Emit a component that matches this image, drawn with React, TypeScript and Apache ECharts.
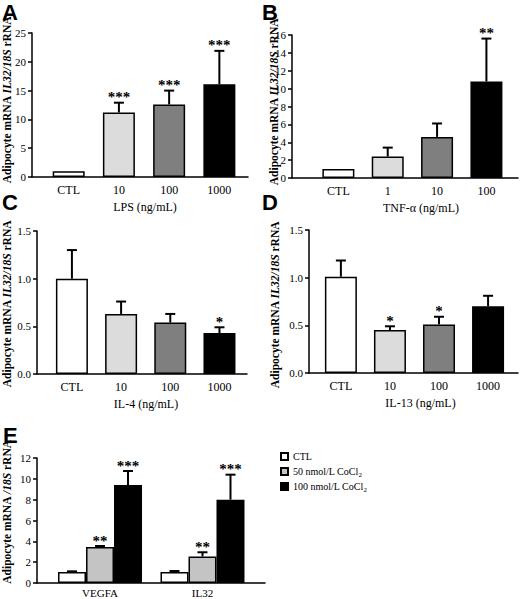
import { useEffect, useRef } from 'react'
import * as echarts from 'echarts'

// panel A - LPS
const CATS_A = ['CTL', '10', '100', '1000']
const VALS_A = [1.0, 11.2, 12.6, 16.1]
const ERR_A = [0, 1.7, 2.4, 5.8]
const STARS_A = ['', '***', '***', '***']

// panel B - TNF-α
const CATS_B = ['CTL', '1', '10', '100']
const VALS_B = [1.0, 2.4, 4.6, 10.8]
const ERR_B = [0, 1.0, 1.5, 4.8]
const STARS_B = ['', '', '', '**']

// panel C - IL-4
const CATS_C = ['CTL', '10', '100', '1000']
const VALS_C = [1.0, 0.63, 0.54, 0.43]
const ERR_C = [0.3, 0.13, 0.09, 0.06]
const STARS_C = ['', '', '', '*']

// panel D - IL-13
const CATS_D = ['CTL', '10', '100', '1000']
const VALS_D = [1.01, 0.45, 0.51, 0.7]
const ERR_D = [0.17, 0.04, 0.08, 0.11]
const STARS_D = ['', '*', '*', '']

// panel E - CoCl2
const GENES_E = ['VEGFA', 'IL32']
const NAMES_E = ['CTL', '50 nmol/L CoCl2', '100 nmol/L CoCl2']
const CTL_E = [1.05, 1.05]
const CTL_ERR_E = [0.07, 0.1]
const CO50_E = [3.45, 2.55]
const CO50_ERR_E = [0.1, 0.4]
const CO100_E = [9.4, 8.0]
const CO100_ERR_E = [1.35, 2.4]
const STARS_50_E = ['**', '**']
const STARS_100_E = ['***', '***']

const SERIF = 'Liberation Serif'
const FILLS = ['#ffffff', '#dcdcdc', '#7f7f7f', '#000000']
const FILLS_E = ['#ffffff', '#c4c4c4', '#000000']

const PANELS = [
  { cats: CATS_A, vals: VALS_A, errs: ERR_A, stars: STARS_A, name: 'LPS (ng/mL)', max: 25, interval: 5, dec: 0,
    grid: { left: 32, top: 33, width: 216, height: 144 }, xMin: -0.73, xMax: 3.57, namePad: 10 },
  { cats: CATS_B, vals: VALS_B, errs: ERR_B, stars: STARS_B, name: 'TNF-α (ng/mL)', max: 16, interval: 2, dec: 0,
    grid: { left: 292, top: 35, width: 226, height: 143 }, xMin: -0.94, xMax: 3.64, namePad: 32 },
  { cats: CATS_C, vals: VALS_C, errs: ERR_C, stars: STARS_C, name: 'IL-4 (ng/mL)', max: 1.5, interval: 0.5, dec: 1,
    grid: { left: 37, top: 231, width: 210, height: 143 }, xMin: -0.71, xMax: 3.56, namePad: 8 },
  { cats: CATS_D, vals: VALS_D, errs: ERR_D, stars: STARS_D, name: 'IL-13 (ng/mL)', max: 1.5, interval: 0.5, dec: 1,
    grid: { left: 309, top: 230, width: 209, height: 143 }, xMin: -0.65, xMax: 3.61, namePad: 14 },
]

const axisLine = { show: true, onZero: false, lineStyle: { color: '#000', width: 1.5 } }

function errSeries(grid: number, vals: number[], errs: number[], stars: string[], offset: number) {
  return {
    type: 'custom' as const,
    xAxisIndex: grid,
    yAxisIndex: grid,
    z: 5,
    silent: true,
    data: vals.map((v, i) => [i, v, errs[i]]),
    renderItem: (params: any, api: any) => {
      const x = api.value(0)
      const v = api.value(1)
      const e = api.value(2)
      const p0 = api.coord([x, v])
      const p1 = api.coord([x, v + e])
      const cx = p0[0] + offset
      const children: any[] = []
      if (e > 0) {
        children.push({ type: 'line', shape: { x1: cx, y1: p0[1], x2: cx, y2: p1[1] }, style: { stroke: '#000', lineWidth: 2 } })
        children.push({ type: 'line', shape: { x1: cx - 5, y1: p1[1], x2: cx + 5, y2: p1[1] }, style: { stroke: '#000', lineWidth: 2 } })
      }
      const s = stars[params.dataIndex]
      if (s) {
        children.push({
          type: 'text',
          x: cx,
          y: p1[1] + 2,
          style: {
            text: s,
            fill: '#000',
            stroke: 'none',
            lineWidth: 0,
            font: `bold 15px "${SERIF}"`,
            align: 'center',
            verticalAlign: 'bottom',
          },
        })
      }
      return { type: 'group', children }
    },
  }
}

const yName = (x: number, y: number, italic: string) => ({
  type: 'text',
  x,
  y,
  rotation: Math.PI / 2,
  style: {
    text: `{b|Adipocyte mRNA }{i|${italic}}{b| rRNA}`,
    align: 'center',
    verticalAlign: 'middle',
    rich: {
      b: { fontFamily: SERIF, fontSize: 11.5, fontWeight: 'bold', fill: '#000' },
      i: { fontFamily: SERIF, fontSize: 11.5, fontWeight: 'bold', fontStyle: 'italic', fill: '#000' },
    },
  },
})

const letter = (t: string, x: number, y: number) => ({
  type: 'text',
  x,
  y,
  style: { text: t, font: 'bold 22px "Liberation Sans"', fill: '#000', align: 'left', verticalAlign: 'top' },
})

function buildOption(): echarts.EChartsOption {
  const grids: any[] = PANELS.map((p) => ({ ...p.grid, containLabel: false, outerBoundsMode: 'none' }))
  grids.push({ left: 37, top: 458, width: 228, height: 125, containLabel: false, outerBoundsMode: 'none' })

  const xAxes: any[] = PANELS.map((p, i) => ({
    type: 'value',
    gridIndex: i,
    min: p.xMin,
    max: p.xMax,
    axisLine,
    axisTick: { show: false },
    splitLine: { show: false },
    axisLabel: {
      customValues: [0, 1, 2, 3],
      formatter: (v: number) => p.cats[Math.round(v)] ?? '',
      color: '#000',
      fontFamily: SERIF,
      fontSize: 12,
      margin: 7,
    },
    name: p.name,
    nameLocation: 'middle',
    nameGap: 24,
    nameTextStyle: { color: '#000', fontFamily: SERIF, fontSize: 12, padding: [0, 0, 0, p.namePad] },
  }))
  xAxes.push({
    type: 'value',
    gridIndex: 4,
    min: -0.615,
    max: 1.61,
    axisLine,
    axisTick: { show: false },
    splitLine: { show: false },
    axisLabel: {
      customValues: [0, 1],
      formatter: (v: number) => GENES_E[Math.round(v)] ?? '',
      color: '#000',
      fontFamily: SERIF,
      fontSize: 11,
      margin: 4,
    },
  })

  const yAxes: any[] = PANELS.map((p, i) => ({
    type: 'value',
    gridIndex: i,
    min: 0,
    max: p.max,
    interval: p.interval,
    axisLine,
    axisTick: { show: true, length: 4, lineStyle: { color: '#000', width: 1.5 } },
    splitLine: { show: false },
    axisLabel: { color: '#000', fontFamily: SERIF, fontSize: 11, margin: 6, formatter: (v: number) => v.toFixed(p.dec) },
  }))
  yAxes.push({
    type: 'value',
    gridIndex: 4,
    min: 0,
    max: 12,
    interval: 2,
    axisLine,
    axisTick: { show: true, length: 4, lineStyle: { color: '#000', width: 1.5 } },
    splitLine: { show: false },
    axisLabel: { color: '#000', fontFamily: SERIF, fontSize: 11, margin: 6 },
  })

  const series: any[] = []
  PANELS.forEach((p, i) => {
    series.push({
      type: 'bar',
      xAxisIndex: i,
      yAxisIndex: i,
      barWidth: 32,
      itemStyle: { borderColor: '#000', borderWidth: 1.5 },
      data: p.vals.map((v, j) => ({ value: [j, v], itemStyle: { color: FILLS[j] } })),
    })
    series.push(errSeries(i, p.vals, p.errs, p.stars, 0))
  })

  const eVals = [CTL_E, CO50_E, CO100_E]
  const eErrs = [CTL_ERR_E, CO50_ERR_E, CO100_ERR_E]
  const eStars = [['', ''], STARS_50_E, STARS_100_E]
  eVals.forEach((vals, k) => {
    series.push({
      type: 'bar',
      name: NAMES_E[k],
      xAxisIndex: 4,
      yAxisIndex: 4,
      barWidth: 28,
      barGap: '0%',
      itemStyle: { color: FILLS_E[k], borderColor: '#000', borderWidth: 1.5 },
      data: vals.map((v, j) => [j, v]),
    })
  })
  eVals.forEach((vals, k) => {
    series.push(errSeries(4, vals, eErrs[k], eStars[k], (k - 1) * 28))
  })

  return {
    animation: false,
    backgroundColor: '#fff',
    grid: grids,
    xAxis: xAxes,
    yAxis: yAxes,
    series,
    legend: {
      data: NAMES_E,
      orient: 'vertical',
      left: 275,
      top: 445,
      icon: 'rect',
      itemWidth: 7,
      itemHeight: 7,
      itemGap: 2,
      selectedMode: false,
      formatter: (n: string) => n.replace(/CoCl2$/, 'CoCl{s|2}'),
      textStyle: {
        color: '#000',
        fontFamily: SERIF,
        fontSize: 10,
        lineHeight: 13,
        rich: { s: { fontFamily: SERIF, fontSize: 7, verticalAlign: 'bottom', lineHeight: 13 } },
      },
    },
    graphic: [
      letter('A', 2, 1),
      letter('B', 262, 1),
      letter('C', 2, 191),
      letter('D', 262, 191),
      letter('E', 3, 424),
      yName(7, 100, 'IL32/18S'),
      yName(274, 102, 'IL32/18S'),
      yName(7, 304, 'IL32/18S'),
      yName(275, 305, 'IL32/18S'),
      yName(7, 512, '/18S'),
    ],
  }
}

export default function App() {
  const ref = useRef<HTMLDivElement>(null)

  useEffect(() => {
    const el = ref.current
    if (!el) return
    const chart = echarts.init(el, null, { renderer: 'svg' })
    chart.setOption(buildOption())
    return () => chart.dispose()
  }, [])

  return (
    <div
      ref={ref}
      style={{ position: 'fixed', left: 0, top: 0, width: 520, height: 599, background: '#fff' }}
    />
  )
}
